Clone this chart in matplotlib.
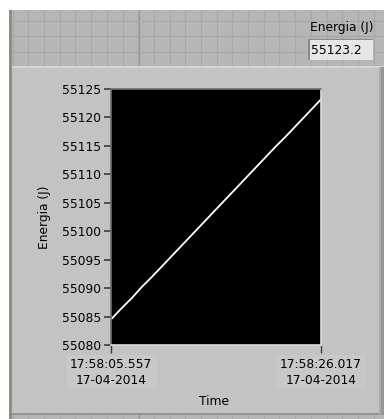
import matplotlib
matplotlib.use("Agg")
import matplotlib.pyplot as plt
from matplotlib.patches import Rectangle

# Energy readings (J) sampled about once per second
elapsed_s = [0.0, 1.0, 2.0, 3.0, 4.0, 5.0, 6.0, 7.0, 8.0, 9.0, 10.0,
             11.0, 12.0, 13.0, 14.0, 15.0, 16.0, 17.0, 18.0, 19.0, 20.0, 20.46]
energy_j = [55084.5, 55086.4, 55088.2, 55090.2, 55092.0, 55093.9, 55095.8,
            55097.7, 55099.6, 55101.5, 55103.4, 55105.3, 55107.2, 55109.1,
            55111.0, 55112.9, 55114.8, 55116.6, 55118.5, 55120.4, 55122.3,
            55123.2]
y_ticks = [55080, 55085, 55090, 55095, 55100, 55105, 55110, 55115, 55120, 55125]
x_ticks = [0.0, 20.46]
x_tick_labels = ["17:58:05.557\n17-04-2014", "17:58:26.017\n17-04-2014"]
indicator_label = "Energia (J)"
indicator_value = "55123.2"

W, H = 384, 419
PANEL = "#c3c3c3"
FONT = "DejaVu Sans"
FS = 8.8

fig = plt.figure(figsize=(W / 100, H / 100), dpi=100, facecolor="white")

# Background layer in pixel coordinates: front-panel grid and chart frame
bg = fig.add_axes([0, 0, 1, 1], zorder=0)
bg.set_xlim(0, W)
bg.set_ylim(H, 0)
bg.axis("off")
bg.add_patch(Rectangle((10, 10), W - 10, H - 10, facecolor="#b6b6b6",
                       edgecolor="none", zorder=0))
gx = 12.6
while gx < W:
    bg.plot([gx, gx], [10, H], color="#a8a8a8", lw=0.9, zorder=1)
    gx += 15.7
bg.plot([139.3, 139.3], [10, H], color="#9a9a9a", lw=1.0, zorder=1)
gy = 20.7
while gy < H:
    bg.plot([10, W], [gy, gy], color="#a8a8a8", lw=0.9, zorder=1)
    gy += 15.6
bg.add_patch(Rectangle((9, 0), 3, H, facecolor="#8e8e84", edgecolor="none", zorder=5))
bg.add_patch(Rectangle((0, 0), 9, H, facecolor="white", edgecolor="none", zorder=5))
bg.add_patch(Rectangle((0, 0), W, 10, facecolor="white", edgecolor="none", zorder=5))

# Chart panel with bevelled edges
bg.add_patch(Rectangle((12, 67), W - 12, 347, facecolor=PANEL, edgecolor="none", zorder=3))
bg.plot([12, W], [67.5, 67.5], color="#dcdcdc", lw=1.2, zorder=4)
bg.plot([12, W], [413.5, 413.5], color="#8c8c8c", lw=1.2, zorder=4)
bg.add_patch(Rectangle((379, 67), 2, 347, facecolor="#acacac", edgecolor="none", zorder=4))
bg.add_patch(Rectangle((381, 67), 3, 347, facecolor="#969696", edgecolor="none", zorder=4))

# Digital indicator above the chart
bg.text(373, 27, indicator_label, ha="right", va="center", fontsize=FS,
        family=FONT, color="black", zorder=6)
bg.add_patch(Rectangle((308, 39), 65, 21, facecolor="#8a8a8a", edgecolor="none", zorder=4))
bg.add_patch(Rectangle((309.5, 40.5), 63.5, 19.5, facecolor="#e6e6e6",
                       edgecolor="none", zorder=4))
bg.text(311.5, 50.5, indicator_value, ha="left", va="center", fontsize=FS,
        family=FONT, color="black", zorder=6)

# Label boxes under the time ticks
bg.add_patch(Rectangle((67, 355), 90, 33, facecolor="#c8c8c8", edgecolor="none", zorder=4))
bg.add_patch(Rectangle((276, 355), 90, 33, facecolor="#c8c8c8", edgecolor="none", zorder=4))

# Plot area
ax = fig.add_axes([111 / W, 1 - 345 / H, 210 / W, 256 / H], zorder=2)
ax.set_facecolor("black")
ax.plot(elapsed_s, energy_j, color="white", lw=1.3, solid_joinstyle="miter")
ax.set_xlim(x_ticks[0], x_ticks[-1])
ax.set_ylim(y_ticks[0], y_ticks[-1])
ax.set_yticks(y_ticks)
ax.set_yticklabels([str(v) for v in y_ticks], fontsize=FS, family=FONT)
ax.set_xticks(x_ticks)
ax.set_xticklabels(x_tick_labels, fontsize=FS, family=FONT, linespacing=1.3)
ax.tick_params(axis="y", direction="out", length=5, width=1.2, color="#3c3c3c", pad=2)
ax.tick_params(axis="x", direction="out", length=6, width=1.0, color="#3c3c3c", pad=3)
for side in ("left", "top"):
    ax.spines[side].set_color("#6e6e6e")
    ax.spines[side].set_linewidth(1.2)
for side in ("right", "bottom"):
    ax.spines[side].set_color("#dadada")
    ax.spines[side].set_linewidth(1.2)

ax.set_ylabel("Energia (J)", fontsize=FS, family=FONT, labelpad=8)
bg.text(214, 401, "Time", ha="center", va="center", fontsize=FS, family=FONT, zorder=6)

fig.savefig("out.png", dpi=100, facecolor="white")
